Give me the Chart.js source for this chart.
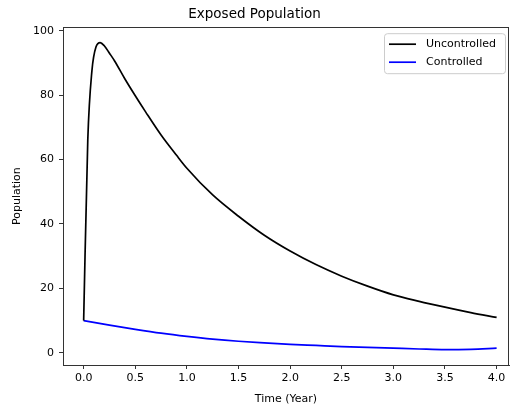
<!DOCTYPE html>
<html lang="en">
<head>
    <meta charset="utf-8" />
    <title>Exposed Population</title>
    <script src="https://cdn.jsdelivr.net/npm/chart.js"></script>
    <style>
        html, body { margin: 0; padding: 0; background: #ffffff; }
        #wrap { width: 511px; height: 410px; }
    </style>
</head>
<body>
    <div id="wrap">
        <canvas id="grafico"></canvas>
    </div>

    <script>
        // data
        const tiempoUncontrolled = [0, 0.04, 0.08, 0.12, 0.16, 0.2, 0.25, 0.3, 0.4, 0.5, 0.6, 0.75, 0.9, 1.0, 1.25, 1.5, 1.75, 2.0, 2.25, 2.5, 2.75, 3.0, 3.25, 3.5, 3.75, 4.0];
        const uncontrolled = [10, 66, 87.5, 95, 96.3, 95.3, 93, 90.6, 85, 79.8, 74.8, 67.6, 61.3, 57.3, 49, 42.4, 36.5, 31.6, 27.4, 23.8, 20.7, 18.0, 16.0, 14.2, 12.5, 11.0];

        const tiempoControlled = [0, 0.25, 0.5, 0.75, 1.0, 1.25, 1.5, 1.75, 2.0, 2.25, 2.5, 2.75, 3.0, 3.25, 3.5, 3.75, 4.0];
        const controlled = [10, 8.6, 7.3, 6.1, 5.1, 4.25, 3.6, 3.1, 2.65, 2.3, 1.95, 1.7, 1.45, 1.2, 1.0, 1.1, 1.45];

        const ticksX = [0, 0.5, 1.0, 1.5, 2.0, 2.5, 3.0, 3.5, 4.0];
        const ticksY = [0, 20, 40, 60, 80, 100];

        const fuente = "'DejaVu Sans', sans-serif";

        function puntos(xs, ys) {
            return xs.map((x, i) => ({ x: x, y: ys[i] }));
        }

        // top/right spines, like matplotlib
        const marco = {
            id: 'marco',
            afterDraw(chart) {
                const a = chart.chartArea;
                const ctx = chart.ctx;
                ctx.save();
                ctx.strokeStyle = '#333';
                ctx.lineWidth = 1;
                ctx.strokeRect(Math.round(a.left) + 0.5, Math.round(a.top) + 0.5, Math.round(a.right - a.left) - 1, Math.round(a.bottom - a.top));
                ctx.restore();
            }
        };

        // legend inside the plot, upper right
        const leyenda = {
            id: 'leyenda',
            afterDraw(chart) {
                const a = chart.chartArea;
                const ctx = chart.ctx;
                const ds = chart.data.datasets;
                const ancho = 121, alto = 40;
                const x0 = a.right - ancho - 4, y0 = a.top + 6;
                ctx.save();
                ctx.fillStyle = 'rgba(255,255,255,0.85)';
                ctx.strokeStyle = '#cccccc';
                ctx.lineWidth = 1;
                ctx.beginPath();
                ctx.roundRect(x0 + 0.5, y0 + 0.5, ancho, alto, 3);
                ctx.fill();
                ctx.stroke();
                ctx.font = '11px ' + fuente;
                ctx.textBaseline = 'middle';
                ds.forEach((d, i) => {
                    const y = y0 + 11 + i * 18;
                    ctx.strokeStyle = d.borderColor;
                    ctx.lineWidth = 1.7;
                    ctx.beginPath();
                    ctx.moveTo(x0 + 5, y);
                    ctx.lineTo(x0 + 32, y);
                    ctx.stroke();
                    ctx.fillStyle = '#000';
                    ctx.fillText(d.label, x0 + 42, y);
                });
                ctx.restore();
            }
        };

        new Chart(document.getElementById('grafico'), {
            type: 'line',
            data: {
                datasets: [
                    {
                        label: 'Uncontrolled',
                        data: puntos(tiempoUncontrolled, uncontrolled),
                        borderColor: '#000000',
                        borderWidth: 1.7,
                        pointRadius: 0,
                        fill: false,
                        cubicInterpolationMode: 'monotone'
                    },
                    {
                        label: 'Controlled',
                        data: puntos(tiempoControlled, controlled),
                        borderColor: '#0000ff',
                        borderWidth: 1.7,
                        pointRadius: 0,
                        fill: false,
                        cubicInterpolationMode: 'monotone'
                    }
                ]
            },
            options: {
                responsive: true,
                maintainAspectRatio: false,
                animation: false,
                layout: { padding: { left: 0, right: 2, top: 0, bottom: 0 } },
                plugins: {
                    legend: { display: false },
                    tooltip: { enabled: false },
                    title: {
                        display: true,
                        text: 'Exposed Population',
                        color: '#000',
                        font: { family: fuente, size: 13.5, weight: 'normal' },
                        padding: { top: 6, bottom: 5 }
                    }
                },
                scales: {
                    x: {
                        type: 'linear',
                        min: -0.2,
                        max: 4.12,
                        afterBuildTicks: (s) => { s.ticks = ticksX.map(v => ({ value: v })); },
                        afterFit: (s) => { s.height = 45; },
                        grid: { display: true, drawOnChartArea: false, drawTicks: true, tickLength: 4, color: '#333' },
                        border: { display: true, color: '#333' },
                        ticks: {
                            color: '#000',
                            padding: 3,
                            maxRotation: 0,
                            font: { family: fuente, size: 11 },
                            callback: (v) => Number(v).toFixed(1)
                        },
                        title: {
                            display: true,
                            text: 'Time (Year)',
                            color: '#000',
                            font: { family: fuente, size: 11 },
                            padding: { top: 2, bottom: 4 }
                        }
                    },
                    y: {
                        type: 'linear',
                        min: -3.77,
                        max: 101.07,
                        afterBuildTicks: (s) => { s.ticks = ticksY.map(v => ({ value: v })); },
                        afterFit: (s) => { s.width = 63; },
                        grid: { display: true, drawOnChartArea: false, drawTicks: true, tickLength: 4, color: '#333' },
                        border: { display: true, color: '#333' },
                        ticks: {
                            color: '#000',
                            padding: 5,
                            font: { family: fuente, size: 11 },
                            callback: (v) => String(v)
                        },
                        title: {
                            display: true,
                            text: 'Population',
                            color: '#000',
                            font: { family: fuente, size: 11 },
                            padding: { top: 11, bottom: 4 }
                        }
                    }
                }
            },
            plugins: [marco, leyenda]
        });
    </script>
</body>
</html>
